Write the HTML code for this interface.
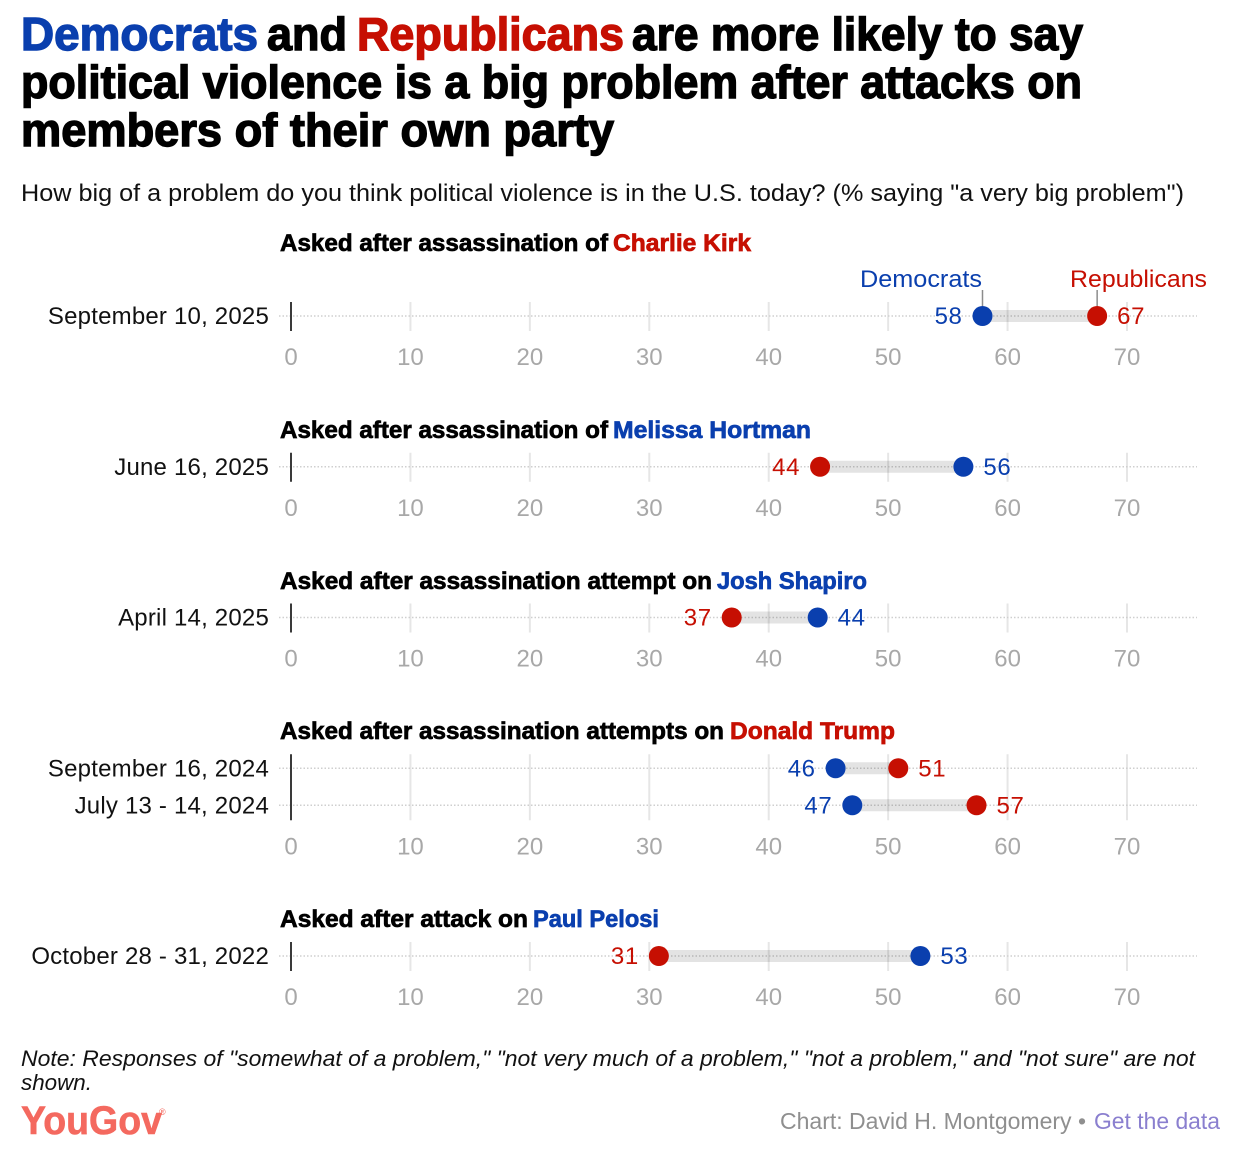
<!DOCTYPE html>
<html lang="en">
<head>
<meta charset="utf-8">
<title>Political violence chart</title>
<style>
html,body{margin:0;padding:0;background:#fff;}
svg{display:block;}
text{font-family:"Liberation Sans",sans-serif;}
.t{font-size:46px;font-weight:700;stroke-width:1.4px;paint-order:stroke;}
.h{font-size:24px;font-weight:700;stroke-width:.7px;}
.blk{fill:#000;stroke:#000;}
.blu{fill:#0a3fae;stroke:#0a3fae;}
.red{fill:#c60f02;stroke:#c60f02;}
.r{font-size:24px;}
</style>
</head>
<body>
<svg id="chart" width="1234" height="1156" viewBox="0 0 1234 1156" xmlns="http://www.w3.org/2000/svg">
<rect width="1234" height="1156" fill="#fff"/>
<g>
<text class="t blu" x="21" y="50" textLength="237" lengthAdjust="spacingAndGlyphs">Democrats</text>
<text class="t blk" x="267" y="50" textLength="80" lengthAdjust="spacingAndGlyphs">and</text>
<text class="t red" x="357" y="50" textLength="267" lengthAdjust="spacingAndGlyphs">Republicans</text>
<text class="t blk" x="632" y="50" textLength="451" lengthAdjust="spacingAndGlyphs">are more likely to say</text>
<text class="t blk" x="21" y="98" textLength="1061" lengthAdjust="spacingAndGlyphs">political violence is a big problem after attacks on</text>
<text class="t blk" x="21" y="146" textLength="593" lengthAdjust="spacingAndGlyphs">members of their own party</text>
</g>
<text class="r" x="21" y="201" fill="#111" textLength="1163" lengthAdjust="spacingAndGlyphs">How big of a problem do you think political violence is in the U.S. today? (% saying "a very big problem")</text>

<g>
<text class="h blk" x="280" y="251" textLength="328" lengthAdjust="spacingAndGlyphs">Asked after assassination of</text>
<text class="h red" x="613" y="251" textLength="138" lengthAdjust="spacingAndGlyphs">Charlie Kirk</text>
<text class="h blk" x="280" y="438" textLength="328" lengthAdjust="spacingAndGlyphs">Asked after assassination of</text>
<text class="h blu" x="613" y="438" textLength="198" lengthAdjust="spacingAndGlyphs">Melissa Hortman</text>
<text class="h blk" x="280" y="589" textLength="432" lengthAdjust="spacingAndGlyphs">Asked after assassination attempt on</text>
<text class="h blu" x="717" y="589" textLength="150" lengthAdjust="spacingAndGlyphs">Josh Shapiro</text>
<text class="h blk" x="280" y="739" textLength="444" lengthAdjust="spacingAndGlyphs">Asked after assassination attempts on</text>
<text class="h red" x="730" y="739" textLength="165" lengthAdjust="spacingAndGlyphs">Donald Trump</text>
<text class="h blk" x="280" y="927" textLength="248" lengthAdjust="spacingAndGlyphs">Asked after attack on</text>
<text class="h blu" x="533" y="927" textLength="126" lengthAdjust="spacingAndGlyphs">Paul Pelosi</text>
</g>

<g id="plot"></g>

<text class="r" x="860" y="287" fill="#0a3fae" textLength="122" lengthAdjust="spacingAndGlyphs">Democrats</text>
<text class="r" x="1070" y="287" fill="#c60f02" textLength="137" lengthAdjust="spacingAndGlyphs">Republicans</text>

<g>
<text x="21" y="1066" font-size="22" font-style="italic" fill="#111" textLength="1174" lengthAdjust="spacingAndGlyphs">Note: Responses of "somewhat of a problem," "not very much of a problem," "not a problem," and "not sure" are not</text>
<text x="21" y="1090" font-size="22" font-style="italic" fill="#111" textLength="71" lengthAdjust="spacingAndGlyphs">shown.</text>
</g>
<g>
<text x="21" y="1134" font-size="40" font-weight="700" fill="#f4695f" stroke="#f4695f" stroke-width="0.6" textLength="141" lengthAdjust="spacingAndGlyphs">YouGov</text>
<text x="159" y="1115" font-size="9" fill="#f4695f">®</text>
</g>
<text x="780" y="1129" font-size="23" fill="#8f8f8f" textLength="306" lengthAdjust="spacingAndGlyphs">Chart: David H. Montgomery •</text>
<text x="1094" y="1129" font-size="23" fill="#8a7fcf" textLength="126" lengthAdjust="spacingAndGlyphs" style="cursor:pointer">Get the data</text>
</svg>
<script>
const dateLabels = ["September 10, 2025", "June 16, 2025", "April 14, 2025", "September 16, 2024", "July 13 - 14, 2024", "October 28 - 31, 2022"];
const groupSizes = [1, 1, 1, 2, 1];
const demValues = [57.9, 56.3, 44.1, 45.6, 47.0, 52.7];
const repValues = [67.5, 44.3, 36.9, 50.85, 57.4, 30.8];
const demPrinted = ["58", "56", "44", "46", "47", "53"];
const repPrinted = ["67", "44", "37", "51", "57", "31"];
const tickValues = [0, 10, 20, 30, 40, 50, 60, 70];

const BLUE = "#0a3fae", RED = "#c60f02";
const NS = "http://www.w3.org/2000/svg";
const plot = document.getElementById("plot");
const xScale = v => 291 + v * (1127 - 291) / 70;
const FIRST_ROW = 316, GROUP_PITCH = 150.75, ROW_STEP = 37;

function make(tag, attrs, text) {
  const el = document.createElementNS(NS, tag);
  for (const k in attrs) el.setAttribute(k, attrs[k]);
  if (text !== undefined) el.textContent = text;
  plot.appendChild(el);
  return el;
}

let rowIndex = 0;
let extraRows = 0;
groupSizes.forEach((size, g) => {
  const firstY = FIRST_ROW + g * GROUP_PITCH + extraRows * ROW_STEP;
  const lastY = firstY + (size - 1) * ROW_STEP;
  const top = firstY - 14, bottom = lastY + 15;
  extraRows += size - 1;

  tickValues.forEach(t => {
    const line = make("line", {x1: xScale(t), x2: xScale(t), y1: top, y2: bottom, stroke: "#e6e6e6", "stroke-width": 2});
    
    
    const label = make("text", {x: xScale(t), y: lastY + 49, "text-anchor": "middle", "font-size": 24, fill: "#a8a8a8"}, String(t));
    
    
  });

  for (let r = 0; r < size; r++, rowIndex++) {
    const y = firstY + r * ROW_STEP;
    const dem = demValues[rowIndex], rep = repValues[rowIndex];
    const demX = xScale(dem), repX = xScale(rep);

    const dots = make("line", {x1: 279, x2: 1197, y1: y, y2: y, stroke: "#cfcfcf", "stroke-width": 1.5, "stroke-dasharray": "1.5 2"});
    
    

    const date = make("text", {x: 269, y: y + 8, "text-anchor": "end", "font-size": 24, fill: "#111", "letter-spacing": 0.2}, dateLabels[rowIndex]);
    
    

    const bar = make("line", {x1: demX, x2: repX, y1: y, y2: y, stroke: "#000", "stroke-opacity": 0.11, "stroke-width": 12});
    
    

    if (rowIndex === 0) {
      const demLeader = make("line", {x1: demX, x2: demX, y1: 290, y2: 306, stroke: "#8c8c8c", "stroke-width": 1.5});
      
      
      const repLeader = make("line", {x1: repX, x2: repX, y1: 290, y2: 306, stroke: "#8c8c8c", "stroke-width": 1.5});
      
      
    }

    const demDot = make("circle", {cx: demX, cy: y, r: 10, fill: BLUE});
    
    
    const repDot = make("circle", {cx: repX, cy: y, r: 10, fill: RED});
    
    

    const demRight = dem > rep;
    const demLabel = make("text", {x: demX + (demRight ? 20 : -20), y: y + 8, "text-anchor": demRight ? "start" : "end", "font-size": 24, fill: BLUE, "letter-spacing": 0.6}, demPrinted[rowIndex]);
    
    
    const repLabel = make("text", {x: repX + (demRight ? -20 : 20), y: y + 8, "text-anchor": demRight ? "end" : "start", "font-size": 24, fill: RED, "letter-spacing": 0.6}, repPrinted[rowIndex]);
    
    
  }

  const axis = make("line", {x1: 291, x2: 291, y1: top, y2: bottom, stroke: "#3a3a3a", "stroke-width": 2});
  
  
});
</script>
</body>
</html>
